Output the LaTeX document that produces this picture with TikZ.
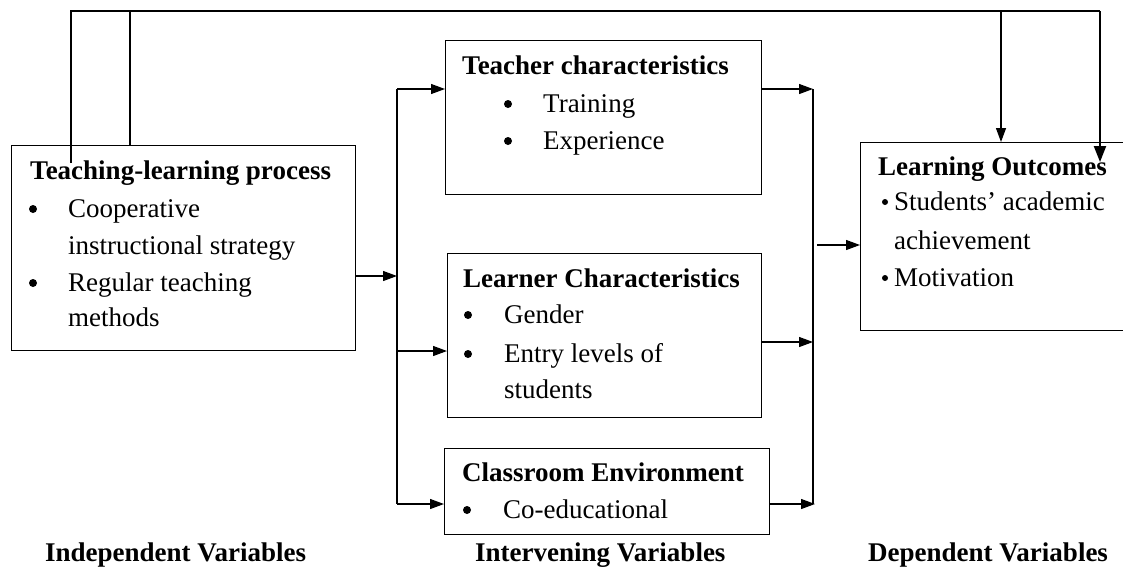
\documentclass[tikz,border=0pt]{standalone}
\usepackage{fontspec}
\setmainfont{Liberation Serif}
\usetikzlibrary{arrows.meta}
\begin{document}
\begin{tikzpicture}[x=1pt,y=-1pt,
  every node/.style={font=\fontsize{27}{37}\selectfont},
  box/.style={draw, line width=1.2pt, anchor=north west, inner sep=0pt},
  txt/.style={anchor=base west, inner sep=0pt},
  bul/.style={circle, fill, inner sep=0pt, minimum size=8pt},
  sbul/.style={circle, fill, inner sep=0pt, minimum size=6pt},
  ln/.style={line width=1.2pt},
  arr/.style={line width=1.2pt, -{Triangle[length=14pt,width=10pt]}},
  thickarr/.style={line width=2.2pt, -{Triangle[length=16pt,width=12pt]}}]
\clip (0,0) rectangle (1123,574);
% boxes
\node[box, minimum width=344pt, minimum height=205pt] (TL) at (11,145) {};
\node[box, minimum width=316pt, minimum height=154pt] (TC) at (445,40) {};
\node[box, minimum width=314pt, minimum height=164pt] (LC) at (447,253) {};
\node[box, minimum width=325pt, minimum height=86pt] (CE) at (444,448) {};
\node[box, minimum width=270pt, minimum height=188pt] (LO) at (860,142) {};
% Teaching-learning process
\node[txt] (t0) at (30,179) {\bfseries Teaching-learning process};
\node[bul] (t1b) at (33,209) {};
\node[txt] (t1) at (68,217) {Cooperative};
\node[txt] (t2) at (68,254) {instructional strategy};
\node[bul] (t3b) at (33,283) {};
\node[txt] (t3) at (68,291) {Regular teaching};
\node[txt] (t4) at (68,326) {methods};
% Teacher characteristics
\node[txt] (c0) at (462,74) {\bfseries Teacher characteristics};
\node[bul] (c1b) at (508,104) {};
\node[txt] (c1) at (543,112) {Training};
\node[bul] (c2b) at (508,141) {};
\node[txt] (c2) at (543,149) {Experience};
% Learner characteristics
\node[txt] (l0) at (463,287) {\bfseries Learner Characteristics};
\node[bul] (l1b) at (468,315) {};
\node[txt] (l1) at (504,323) {Gender};
\node[bul] (l2b) at (468,354) {};
\node[txt] (l2) at (504,362) {Entry levels of};
\node[txt] (l3) at (504,398) {students};
% Classroom environment
\node[txt] (e0) at (462,481) {\bfseries Classroom Environment};
\node[bul] (e1b) at (467,510) {};
\node[txt] (e1) at (503,518) {Co-educational};
% Learning outcomes
\node[txt] (o0) at (878,175) {\bfseries Learning Outcomes};
\node[sbul] (o1b) at (885,202) {};
\node[txt] (o1) at (894,210) {Students' academic};
\node[txt] (o2) at (894,249) {achievement};
\node[sbul] (o3b) at (885,278) {};
\node[txt] (o3) at (894,286) {Motivation};
% bottom labels
\node[txt] (iv) at (45,561) {\bfseries Independent Variables};
\node[txt] (mv) at (475,561) {\bfseries Intervening Variables};
\node[txt] (dv) at (868,561) {\bfseries Dependent Variables};
% routing coordinates
\coordinate (f1) at (71,11);
\coordinate (f2) at (130,11);
\coordinate (f3) at (1001,11);
\coordinate (f4) at (1100,11);
\coordinate (fs) at (71,163);
\coordinate (fe) at (1100,162);
\coordinate (j) at (397,276);
\coordinate (bL1) at (397,89);
\coordinate (bL2) at (397,504);
\coordinate (bL3) at (397,351);
\coordinate (bR1) at (813,89);
\coordinate (bR2) at (813,504);
\coordinate (bR3) at (813,342);
\coordinate (bR4) at (815,504);
\coordinate (out) at (817,245);
% feedback lines
\draw[ln] (fs) -- (f1) -- (f4);
\draw[ln] (TL.north -| f2) -- (f2);
\draw[arr] (f3) -- (LO.north -| f3);
\draw[thickarr] (f4) -- (fe);
% into left bus
\draw[arr] (TL.east |- j) -- (j);
\draw[ln] (bL1) -- (bL2);
\draw[arr] (bL1) -- (TC.west |- bL1);
\draw[arr] (bL3) -- (LC.west |- bL3);
\draw[arr] (bL2) -- (CE.west |- bL2);
% right bus
\draw[ln] (bR1) -- (bR2);
\draw[arr] (TC.east |- bR1) -- (bR1);
\draw[arr] (LC.east |- bR3) -- (bR3);
\draw[arr] (CE.east |- bR4) -- (bR4);
\draw[arr] (out) -- (LO.west |- out);
\end{tikzpicture}
\end{document}
